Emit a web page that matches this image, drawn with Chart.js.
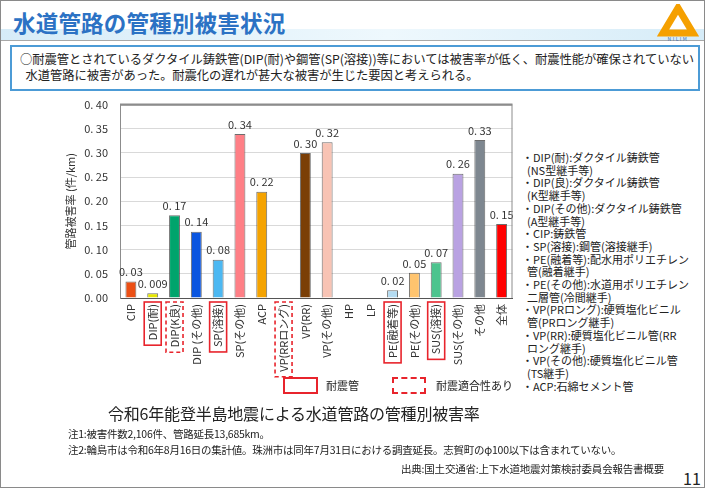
<!DOCTYPE html>
<html lang="ja">
<head>
<meta charset="utf-8">
<script src="https://cdn.jsdelivr.net/npm/chart.js@4.4.1/dist/chart.umd.min.js"></script>
<style>
  body { margin: 0; background: #fff; font-family: "Noto Sans CJK JP", sans-serif; color: #222; }
  #page { position: relative; width: 703px; height: 486px; border: 1px solid #8a8a8a; overflow: hidden; }
  #title { position: absolute; left: 12px; top: 5px; font-size: 22.5px; font-weight: bold; color: #2c72c4; letter-spacing: 0.2px; }
  #stripe { position: absolute; left: 0; top: 28px; width: 703px; height: 11px; background: linear-gradient(to right, #d6ecf8, #eef8fd 55%, #d6ecf8); }
  #rule { position: absolute; left: 0; top: 39px; width: 703px; height: 1px; background: #a8a8a8; }
  #lead { position: absolute; left: 9px; top: 44px; width: 678px; height: 38px; border: 2px solid #4c9bd6; font-size: 12.3px; line-height: 16px; padding: 4px 0 0 8px; white-space: nowrap; letter-spacing: -0.05px; }
  #notes { position: absolute; left: 521px; top: 150px; font-size: 11px; line-height: 12.7px; white-space: pre; }
  #chartBox { position: absolute; left: 55px; top: 85px; }
  .lg { position: absolute; top: 376px; height: 13px; border: 2px solid #e8242c; }
  .lgText { position: absolute; top: 376px; font-size: 11px; }
  #caption { position: absolute; left: 107px; top: 400px; font-size: 16px; letter-spacing: -0.2px; }
  .note { position: absolute; left: 67px; font-size: 10.5px; letter-spacing: -0.25px; }
  #source { position: absolute; left: 400px; top: 460px; font-size: 10.5px; letter-spacing: -0.2px; }
  #pageNo { position: absolute; left: 682px; top: 465px; font-size: 16px; }
</style>
</head>
<body>
<div id="page">
  <div id="stripe"></div>
  <div id="rule"></div>
  <div id="title">水道管路の管種別被害状況</div>
  <svg style="position:absolute;left:656px;top:3px" width="42" height="38" viewBox="0 0 42 38">
    <polygon points="21,4 36,29 6,29" fill="none" stroke="#f5a000" stroke-width="7" stroke-linejoin="miter"/>
    <text x="21" y="37" font-size="5" text-anchor="middle" fill="#3a6fb0" letter-spacing="1.5">NILIM</text>
  </svg>
  <div id="lead">○耐震管とされているダクタイル鋳鉄管(DIP(耐)や鋼管(SP(溶接))等においては被害率が低く、耐震性能が確保されていない<br>&nbsp;&nbsp;水道管路に被害があった。耐震化の遅れが甚大な被害が生じた要因と考えられる。</div>
  <div id="chartBox"><canvas id="pipeChart" width="465" height="300"></canvas></div>
  <div class="lg" style="left:282px;width:31px;"></div>
  <div class="lgText" style="left:325px;">耐震管</div>
  <div class="lg" style="left:391px;width:30px;border-style:dashed;"></div>
  <div class="lgText" style="left:435px;">耐震適合性あり</div>
  <div id="notes">・DIP(耐):ダクタイル鋳鉄管
  (NS型継手等)
・DIP(良):ダクタイル鋳鉄管
  (K型継手等)
・DIP(その他):ダクタイル鋳鉄管
  (A型継手等)
・CIP:鋳鉄管
・SP(溶接):鋼管(溶接継手)
・PE(融着等):配水用ポリエチレン
  管(融着継手)
・PE(その他):水道用ポリエチレン
  二層管(冷間継手)
・VP(PRロング):硬質塩化ビニル
  管(PRロング継手)
・VP(RR):硬質塩化ビニル管(RR
  ロング継手)
・VP(その他):硬質塩化ビニル管
  (TS継手)
・ACP:石綿セメント管</div>
  <div id="caption">令和6年能登半島地震による水道管路の管種別被害率</div>
  <div class="note" style="top:425px;">注1:被害件数2,106件、管路延長13,685km。</div>
  <div class="note" style="top:441px;">注2:輪島市は令和6年8月16日の集計値。珠洲市は同年7月31日における調査延長。志賀町のφ100以下は含まれていない。</div>
  <div id="source">出典:国土交通省:上下水道地震対策検討委員会報告書概要</div>
  <div id="pageNo">11</div>
</div>
<script>
// pipe categories and damage rate (件/km)
const categories = ['CIP', 'DIP(耐)', 'DIP(K良)', 'DIP (その他)', 'SP(溶接)', 'SP(その他)', 'ACP', 'VP(RRロング)', 'VP(RR)',
  'VP(その他)', 'HP', 'LP', 'PE(融着等)', 'PE(その他)', 'SUS(溶接)', 'SUS(その他)', 'その他', '全体'];
const damageRates = [0.034, 0.010, 0.171, 0.137, 0.079, 0.339, 0.220, 0, 0.300,
  0.322, 0, 0, 0.016, 0.052, 0.074, 0.257, 0.327, 0.153];
const rateLabels = ['0.03', '0.009', '0.17', '0.14', '0.08', '0.34', '0.22', '', '0.30',
  '0.32', '', '', '0.02', '0.05', '0.07', '0.26', '0.33', '0.15'];
const barColors = ['#ec4f14', '#e6e600', '#00a46c', '#0a55e0', '#4cb8f2', '#ff7f86', '#f5a300', '#ffffff', '#7b3f06',
  '#f8c3b4', '#ffffff', '#ffffff', '#b4dcf2', '#ffc46e', '#4cc48e', '#b9a2e2', '#7e8790', '#ff0000'];
const seismicPipes = ['DIP(耐)', 'SP(溶接)', 'PE(融着等)', 'SUS(溶接)'];
const compatiblePipes = ['DIP(K良)', 'VP(RRロング)'];
const yMax = 0.40;
const yStep = 0.05;

const tickFont = '"Noto Sans CJK JP", sans-serif';
const spaced = s => s.replace('.', '. ');

// value labels above the bars
const valueLabels = {
  id: 'valueLabels',
  afterDatasetsDraw(chart) {
    const ctx = chart.ctx;
    ctx.save();
    ctx.font = '11px ' + tickFont;
    ctx.fillStyle = '#333';
    ctx.textAlign = 'center';
    ctx.textBaseline = 'bottom';
    chart.getDatasetMeta(0).data.forEach((bar, i) => {
      if (rateLabels[i]) ctx.fillText(spaced(rateLabels[i]), bar.x, bar.y - 4);
    });
    ctx.restore();
  }
};

// plot frame + red boxes round the seismic pipe labels
const frameAndBoxes = {
  id: 'frameAndBoxes',
  afterDraw(chart) {
    const ctx = chart.ctx;
    const a = chart.chartArea;
    ctx.save();
    ctx.strokeStyle = '#8c8c8c';
    ctx.lineWidth = 1;
    ctx.beginPath();
    ctx.moveTo(a.left, a.top + 0.5);
    ctx.lineTo(a.right - 0.5, a.top + 0.5);
    ctx.lineTo(a.right - 0.5, a.bottom);
    ctx.stroke();
    ctx.lineWidth = 2;
    ctx.beginPath();
    ctx.moveTo(a.left, a.top);
    ctx.lineTo(a.right, a.top);
    ctx.stroke();

    const xs = chart.scales.x;
    ctx.font = '11px ' + tickFont;
    ctx.strokeStyle = '#e8242c';
    ctx.lineWidth = 1.6;
    categories.forEach((c, i) => {
      const solid = seismicPipes.includes(c);
      const dashed = compatiblePipes.includes(c);
      if (!solid && !dashed) return;
      const w = ctx.measureText(c).width;
      const x = xs.getPixelForTick(i);
      ctx.setLineDash(dashed ? [4, 3] : []);
      ctx.strokeRect(x - 8.5, a.bottom + 4, 17, w + 7);
    });
    ctx.restore();
  }
};

new Chart(document.getElementById('pipeChart'), {
  type: 'bar',
  plugins: [valueLabels, frameAndBoxes],
  data: {
    labels: categories,
    datasets: [{
      data: damageRates,
      backgroundColor: barColors,
      borderColor: 'rgba(60,60,60,0.75)',
      borderWidth: 1,
      barPercentage: 0.5,
      categoryPercentage: 1
    }]
  },
  options: {
    responsive: false,
    animation: false,
    layout: { padding: { left: 0, right: 7, top: 16, bottom: 0 } },
    plugins: { legend: { display: false }, tooltip: { enabled: false } },
    scales: {
      x: {
        afterFit: s => { s.height = 88; },
        grid: { display: false, drawTicks: false },
        border: { display: true, color: '#555', width: 1 },
        ticks: {
          autoSkip: false, minRotation: 90, maxRotation: 90, padding: 6,
          color: '#333', font: { family: tickFont, size: 11 }
        }
      },
      y: {
        min: 0, max: yMax,
        afterFit: s => { s.width = 64; },
        grid: { color: '#d9d9d9', drawTicks: false },
        border: { display: true, color: '#8c8c8c', width: 1 },
        ticks: {
          stepSize: yStep, padding: 12, color: '#333',
          font: { family: tickFont, size: 11 },
          callback: v => spaced(v.toFixed(2))
        },
        title: {
          display: true, text: '管路被害率 (件/km)', color: '#333',
          font: { family: tickFont, size: 11 }, padding: { top: 8, bottom: 0 }
        }
      }
    }
  }
});
</script>
</body>
</html>
